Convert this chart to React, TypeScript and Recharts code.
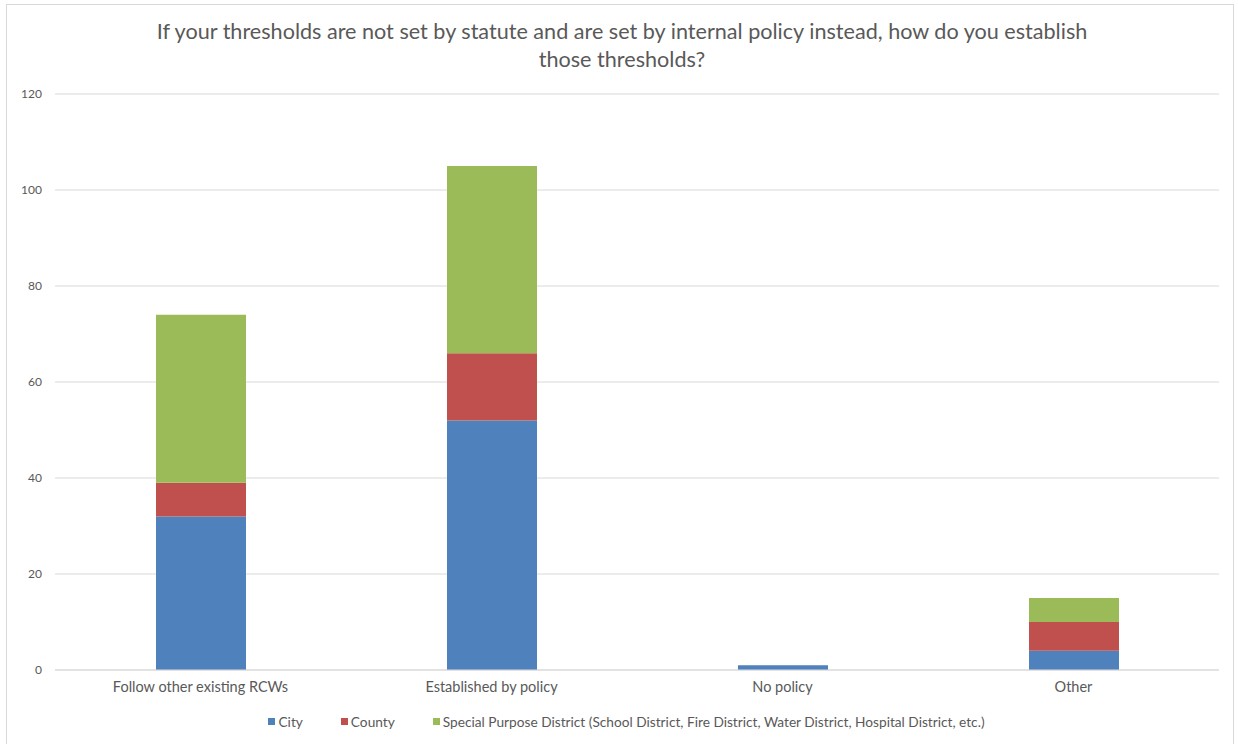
import { BarChart, Bar, XAxis, YAxis, CartesianGrid, Legend } from 'recharts';

const categories = ['Follow other existing RCWs', 'Established by policy', 'No policy', 'Other'];
const cityValues = [32, 52, 1, 4];
const countyValues = [7, 14, 0, 6];
const specialValues = [35, 39, 0, 5];
const yTicks = [0, 20, 40, 60, 80, 100, 120];

const seriesList = [
    {key: 'city', name: 'City', color: '#4f81bd'},
    {key: 'county', name: 'County', color: '#c0504d'},
    {key: 'special', name: 'Special Purpose District (School District, Fire District, Water District, Hospital District, etc.)', color: '#9bbb59'},
];

const chartData = categories.map((name, i) => ({
    name,
    city: cityValues[i],
    county: countyValues[i],
    special: specialValues[i],
}));

const FONT = 'Lato, "Open Sans", sans-serif';

const LegendContent = () => (
    <div style={{display: 'flex', justifyContent: 'center', height: 24, alignItems: 'center', paddingLeft: 34, fontFamily: FONT, fontSize: 13.7, color: '#595959'}}>
        {seriesList.map((s, i) => (
            <div key={s.key} style={{display: 'flex', alignItems: 'center', marginRight: i < seriesList.length - 1 ? 38 : 0}}>
                <span style={{display: 'inline-block', width: 7, height: 7, background: s.color, marginRight: 3}} />
                <span>{s.name}</span>
            </div>
        ))}
    </div>
);

const App = () => {
    return (
        <div style={{position: 'absolute', left: 0, top: 0, width: 1238, height: 744, background: '#fff', overflow: 'hidden'}}>
            <div style={{position: 'absolute', left: 6, top: 4, width: 1226, height: 745, border: '1px solid #d9d9d9', borderBottom: 'none'}} />
            <div style={{position: 'absolute', left: 0, top: 17, width: 1244, textAlign: 'center', fontFamily: FONT, fontSize: 21.6, lineHeight: '28px', color: '#595959'}}>
                <div>If your thresholds are not set by statute and are set by internal policy instead, how do you establish</div>
                <div>those thresholds?</div>
            </div>
            <div style={{position: 'absolute', left: 0, top: 0}}>
                <BarChart width={1238} height={744} data={chartData} margin={{top: 94, right: 19, bottom: 11, left: 0}}>
                    <CartesianGrid vertical={false} stroke='#d9d9d9' />
                    <XAxis
                        dataKey='name'
                        height={39}
                        tickLine={false}
                        axisLine={{stroke: '#d9d9d9'}}
                        tickMargin={6}
                        tick={{fontFamily: FONT, fontSize: 14.5, fill: '#595959'}}
                    />
                    <YAxis
                        width={55}
                        domain={[0, 120]}
                        ticks={yTicks}
                        tickLine={false}
                        axisLine={false}
                        tickMargin={7}
                        tick={{fontFamily: FONT, fontSize: 12, fill: '#595959'}}
                    />
                    <Legend verticalAlign='bottom' content={<LegendContent />} />
                    {seriesList.map((s) => (
                        <Bar key={s.key} dataKey={s.key} name={s.name} stackId='a' fill={s.color} barSize={90} isAnimationActive={false} />
                    ))}
                </BarChart>
            </div>
        </div>
    );
};

export default App;
